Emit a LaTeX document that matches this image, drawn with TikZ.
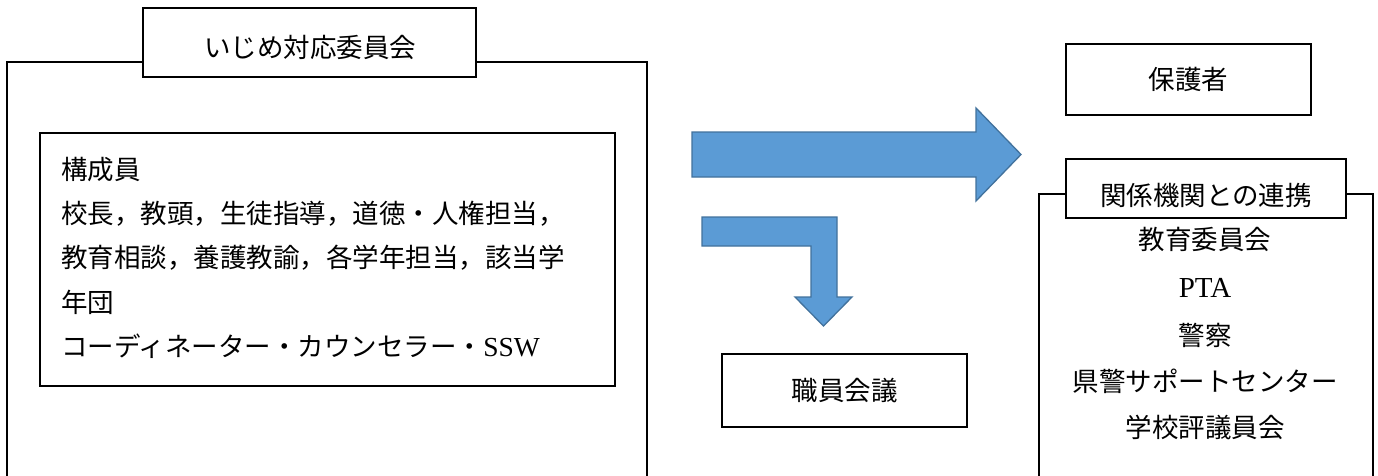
\documentclass[tikz,border=0pt]{standalone}
\usepackage{fontspec}
\setmainfont{Liberation Serif}
\newfontfamily\jp{Noto Sans CJK JP}
\definecolor{arrowfill}{HTML}{5B9BD5}
\definecolor{arrowedge}{HTML}{41719C}
\begin{document}
\begin{tikzpicture}[x=1pt,y=-1pt,
  frame/.style={draw=black,line width=2pt,inner sep=0pt,anchor=north west},
  labelbox/.style={draw=black,line width=2pt,fill=white,inner sep=0pt,
    font=\fontsize{26.5}{30}\selectfont\jp},
  txt/.style={inner sep=0pt,font=\fontsize{26.5}{30}\selectfont\jp},
  latin/.style={inner sep=0pt,font=\fontsize{29}{32}\selectfont\rmfamily},
  blockarrow/.style={fill=arrowfill,draw=arrowedge,line width=1.3pt,line join=miter}]
\useasboundingbox (0,0) rectangle (1378,475);
\clip (0,0) rectangle (1378,475);

% left committee frame
\node[frame,minimum width=640,minimum height=440] (committee) at (6,61) {};
\node[labelbox,minimum width=333,minimum height=69] (ctitle) at (309.5,42.5) {};
\node[txt] (ctitletext) at (310,47) {いじめ対応委員会};
\node[frame,minimum width=575,minimum height=253] (members) at (39,132) {};
\node[txt,anchor=west] (m1) at (61,170) {構成員};
\node[txt,anchor=west] (m2) at (61,214) {校長，教頭，生徒指導，道徳・人権担当，};
\node[txt,anchor=west] (m3) at (61,258) {教育相談，養護教諭，各学年担当，該当学};
\node[txt,anchor=west] (m4) at (61,302) {年団};
\node[txt,anchor=west] (m5) at (61,346) {コーディネーター・カウンセラー・{\fontsize{27.5}{30}\selectfont\rmfamily SSW}};

% arrows
\draw[blockarrow] (692,132) -- (976,132) -- (976,108) -- (1021,154.5) -- (976,201) -- (976,177) -- (692,177) -- cycle;
\draw[blockarrow] (702,217) -- (837,217) -- (837,297) -- (852,297) -- (823.5,326) -- (795,297) -- (811,297) -- (811,246) -- (702,246) -- cycle;

% staff meeting
\node[labelbox,minimum width=245,minimum height=73] (staff) at (844.5,390.5) {職員会議};

% guardians
\node[labelbox,minimum width=245,minimum height=71] (guardians) at (1188.5,79) {保護者};

% cooperation frame
\node[frame,minimum width=334,minimum height=300] (coop) at (1038,193) {};
\node[labelbox,minimum width=280,minimum height=59] (ctitle2) at (1206,188.5) {};
\node[txt] (ctitle2text) at (1206,195) {関係機関との連携};
\node[txt] (o1) at (1205,239) {教育委員会};
\node[latin] (o2) at (1205,288) {PTA};
\node[txt] (o3) at (1205,335) {警察};
\node[txt] (o4) at (1205,381) {県警サポートセンター};
\node[txt] (o5) at (1205,427) {学校評議員会};
\end{tikzpicture}
\end{document}
